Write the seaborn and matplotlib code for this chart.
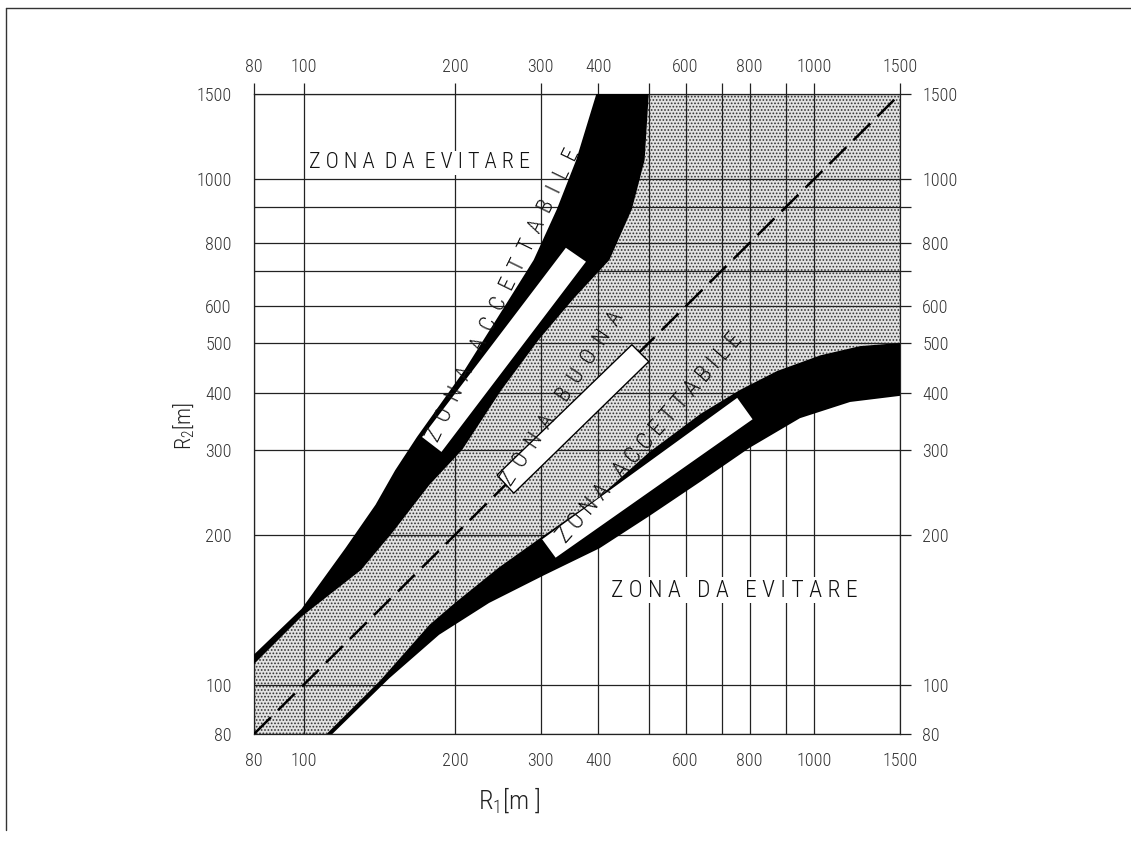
import numpy as np
import seaborn as sns
import matplotlib.pyplot as plt
from matplotlib import font_manager
from matplotlib.lines import Line2D
from matplotlib.ticker import NullLocator

# printed scale of the nomogram (not an exact log scale): value -> relative position
scale_vals = [80, 100, 200, 300, 400, 500, 600, 700, 800, 900, 1000, 1500]
scale_pos = [0, .077, .311, .444, .533, .611, .668, .724, .767, .823, .867, 1]

ticks = [80, 100, 200, 300, 400, 500, 600, 700, 800, 900, 1000, 1500]
x_labels = ['80', '100', '200', '300', '400', '', '600', '', '800', '', '1000', '1500']
y_labels = ['80', '100', '200', '300', '400', '500', '600', '', '800', '', '1000', '1500']
r_min, r_max = 80, 1500

# upper band (zona accettabile, R2 > R1)
upper_outer_r1 = [80, 99, 121, 139, 152, 168, 209, 258, 290, 325, 358, 396]
upper_outer_r2 = [115, 142, 188, 231, 272, 320, 442, 618, 737, 894, 1095, 1500]
upper_inner_r1 = [80, 99, 130, 150, 178, 207, 249, 297, 352, 420, 464, 491, 500]
upper_inner_r2 = [110, 137, 170, 202, 254, 300, 405, 508, 618, 737, 894, 1095, 1500]

# lower band (zona accettabile, R2 < R1)
lower_upper_r1 = [111, 142, 178, 200, 246, 301, 402, 502, 640, 763, 875, 1029, 1242, 1500]
lower_upper_r2 = [80, 102, 132, 146, 172, 198, 240, 297, 360, 405, 441, 473, 493, 500]
lower_lower_r1 = [114, 148, 186, 235, 305, 402, 502, 640, 800, 949, 1185, 1500]
lower_lower_r2 = [80, 103, 126, 146, 166, 188, 219, 258, 303, 352, 382, 394]

# white label strips
box_upper_r1 = [172, 188, 376, 340]
box_upper_r2 = [320, 297, 731, 782]
box_mid_r1 = [244, 264, 500, 464]
box_mid_r2 = [266, 244, 460, 496]
box_lower_r1 = [302, 323, 808, 754]
box_lower_r2 = [196, 180, 350, 390]

diag = [r_min, r_max]


def spaced(text, gap=1, word_gap=3):
    return (' ' * word_gap).join((' ' * gap).join(w) for w in text.split())


# extend the printed scale a little so values outside 80..1500 still map
lv = np.log10(scale_vals)
k = 1.0 / (lv[-1] - lv[0])
ext_l = np.concatenate([[lv[0] - 2], lv, [lv[-1] + 2]])
ext_p = np.concatenate([[-2 * k], scale_pos, [1 + 2 * k]])


def fwd(v):
    v = np.clip(np.asarray(v, dtype=float), 1e-6, None)
    return np.interp(np.log10(v), ext_l, ext_p)


def inv(p):
    return 10 ** np.interp(np.asarray(p, dtype=float), ext_p, ext_l)


sns.set_theme(style='white')
avail = {f.name for f in font_manager.fontManager.ttflist}
candidates = ['Roboto Condensed', 'Liberation Sans Narrow', 'Open Sans Condensed', 'Roboto', 'DejaVu Sans']
main_font = next(f for f in candidates if f in avail)
plt.rcParams['font.family'] = [main_font, 'DejaVu Sans']
plt.rcParams['font.stretch'] = 'condensed'
plt.rcParams['font.weight'] = 'light'
plt.rcParams['mathtext.fontset'] = 'custom'
plt.rcParams['mathtext.rm'] = main_font + ':light'
plt.rcParams['mathtext.it'] = main_font + ':light'
plt.rcParams['hatch.linewidth'] = 0.8

fig = plt.figure(figsize=(11.31, 8.42), dpi=100)
ax = fig.add_axes([0.2246, 0.1283, 0.5712, 0.7601])
ax.set_xscale('function', functions=(fwd, inv))
ax.set_yscale('function', functions=(fwd, inv))
ax.set_xlim(r_min, r_max)
ax.set_ylim(r_min, r_max)

# zona buona (dotted)
shade_x = np.concatenate([[r_min], upper_inner_r1, [r_max, r_max], lower_upper_r1[::-1], [r_min]])
shade_y = np.concatenate([[r_min], upper_inner_r2, [r_max, 500], lower_upper_r2[::-1], [r_min]])
ax.fill(shade_x, shade_y, facecolor='#e2e2e2', edgecolor='#333333', lw=0, hatch='.....', zorder=1)

# black bands
ax.fill(upper_outer_r1 + upper_inner_r1[::-1], upper_outer_r2 + upper_inner_r2[::-1],
        color='black', lw=0, zorder=3)
ax.fill(lower_upper_r1 + lower_lower_r1[::-1], lower_upper_r2 + lower_lower_r2[::-1],
        color='black', lw=0, zorder=3)

sns.lineplot(x=diag, y=diag, ax=ax, color='black', lw=1.8, linestyle=(0, (9.5, 4)), zorder=3.5)

ax.fill(box_upper_r1, box_upper_r2, facecolor='white', edgecolor='none', zorder=4)
ax.fill(box_lower_r1, box_lower_r2, facecolor='white', edgecolor='none', zorder=4)
ax.fill(box_mid_r1, box_mid_r2, facecolor='white', edgecolor='black', lw=1, zorder=4)

# grid and ticks
ax.set_axisbelow(False)
ax.grid(True, color='#222222', lw=0.9)
ax.set_xticks(ticks, x_labels)
ax.set_yticks(ticks, y_labels)
ax.xaxis.set_minor_locator(NullLocator())
ax.yaxis.set_minor_locator(NullLocator())
ax.tick_params(which='major', direction='out', length=8, width=0.9, color='#222222',
               labelsize=13, labelcolor='#333333', top=True, right=True,
               labeltop=True, labelright=True)
ax.tick_params(axis='x', pad=5)
ax.tick_params(axis='y', pad=8)
for s in ax.spines.values():
    s.set_color('#222222')
    s.set_linewidth(0.9)

txt = dict(color='#111111', ha='center', va='center', zorder=5)
ax.text(170, 1080, spaced('ZONA DA EVITARE', 1, 2), fontsize=16,
        bbox=dict(fc='white', ec='none', pad=1), **txt)
ax.text(745, 155, spaced('ZONA DA EVITARE'), fontsize=17,
        bbox=dict(fc='white', ec='none', pad=1), **txt)
ax.text(252, 628, spaced('ZONA ACCETTABILE', 2, 4), fontsize=16, rotation=64,
        rotation_mode='anchor', **txt)
ax.text(334, 388, spaced('ZONA BUONA', 2, 4), fontsize=16, rotation=56.5,
        rotation_mode='anchor', **txt)
ax.text(502, 318, spaced('ZONA ACCETTABILE', 1, 3), fontsize=17, rotation=49,
        rotation_mode='anchor', **txt)

ax.text(0.395, -0.103, r'R$_1$[m ]', transform=ax.transAxes, fontsize=19,
        ha='center', va='center', color='#222222')
ax.text(-0.108, 0.481, r'R$_2$[m]', transform=ax.transAxes, fontsize=16, rotation=90,
        ha='center', va='center', color='#222222')

# frame of the original sheet (top and left edges)
fig.add_artist(Line2D([6 / 1131, 6 / 1131], [12 / 842, 834 / 842], color='#333333', lw=1))
fig.add_artist(Line2D([6 / 1131, 1], [834 / 842, 834 / 842], color='#333333', lw=1))

fig.savefig('out.png', dpi=100)
